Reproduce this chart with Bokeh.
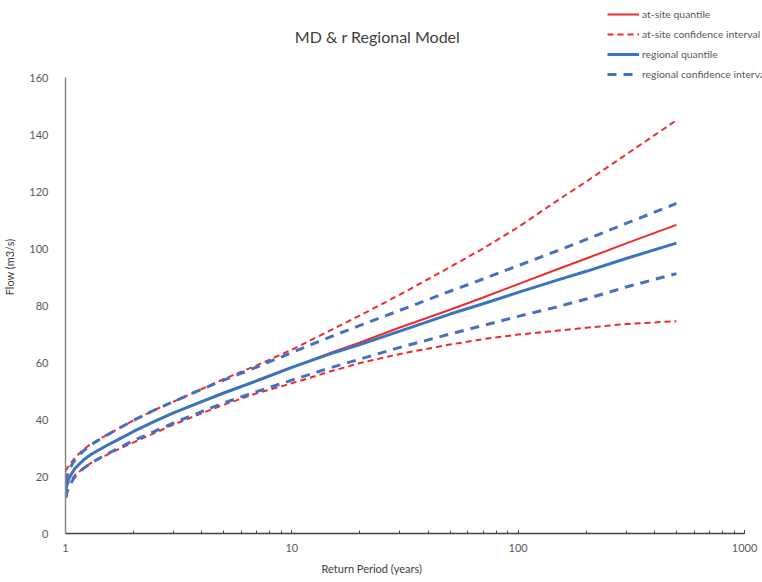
from bokeh.plotting import figure
from bokeh.models import (Legend, LegendItem, PrintfTickFormatter, SingleIntervalTicker,
                          LogTicker, Range1d, Label, Title)
from bokeh.embed import file_html
from bokeh.resources import INLINE

# Return periods (years) and flow quantiles (m3/s)
return_period = [1.005, 1.01, 1.03, 1.05, 1.1, 1.2, 1.3, 1.5, 1.75, 2, 2.5, 3, 4, 5, 7,
                 10, 15, 20, 30, 50, 70, 100, 150, 200, 300, 500]

atsite_quantile = [16.0, 17.0, 19.0, 20.3, 22.8, 25.8, 27.8, 30.6, 33.4, 35.8, 39.5, 42.3, 46.3, 49.3, 53.6,
                   58.3, 63.5, 67.0, 72.3, 78.5, 82.8, 87.5, 92.8, 96.5, 101.8, 108.3]
atsite_upper = [21.8, 22.5, 23.6, 24.5, 26.5, 29.5, 31.5, 34.3, 37.2, 39.7, 43.5, 46.3, 50.7, 54.2, 59.0,
                64.5, 71.5, 76.5, 83.8, 93.5, 100.0, 107.5, 117.0, 123.5, 133.0, 145.0]
atsite_lower = [16.5, 17.0, 17.8, 18.6, 20.4, 23.0, 24.8, 27.3, 29.9, 32.0, 35.4, 38.2, 42.2, 45.2, 49.2,
                52.7, 57.0, 59.8, 63.0, 66.3, 68.2, 69.8, 71.2, 72.2, 73.5, 74.5]

regional_quantile = [15.0, 16.5, 18.8, 20.2, 22.8, 25.8, 27.8, 30.6, 33.4, 35.8, 39.5, 42.3, 46.3, 49.3, 53.6,
                     58.3, 63.2, 66.3, 71.0, 77.0, 80.6, 84.6, 89.0, 92.0, 96.5, 101.9]
regional_upper = [18.0, 19.5, 21.8, 23.2, 25.8, 29.0, 31.2, 34.2, 37.2, 39.7, 43.5, 46.3, 50.6, 53.8, 58.4,
                  63.5, 69.2, 73.0, 78.3, 85.0, 89.3, 94.0, 99.3, 103.2, 108.8, 115.8]
regional_lower = [12.5, 13.8, 16.0, 17.4, 19.9, 22.8, 24.8, 27.6, 30.3, 32.6, 36.0, 38.8, 42.8, 45.8, 49.8,
                  53.8, 58.3, 61.2, 65.3, 70.0, 73.0, 76.2, 79.6, 82.3, 86.5, 91.2]

RED = "#ee2b2b"
BLUE = "#3a74bd"
BLUE_DASH = "#4570c2"
FONT = "Lato"

# The frame fills the top and right of the canvas so the title and legend can sit
# inside it; the axes are bounded to the 1-1000 / 0-160 extents.
p = figure(width=762, height=582, x_axis_type="log",
           x_range=Range1d(1, 1200.5), y_range=Range1d(0, 187.02),
           output_backend="svg", toolbar_location=None,
           min_border_left=64, min_border_right=0,
           min_border_top=0, min_border_bottom=49)

p.background_fill_color = "white"
p.border_fill_color = "white"
p.outline_line_color = None
p.grid.grid_line_color = None

# x axis (log)
xa = p.xaxis[0]
xa.bounds = (1, 1000)
xa.ticker = LogTicker(num_minor_ticks=10)
xa.formatter = PrintfTickFormatter(format="%d")
xa.axis_line_color = "#404040"
xa.axis_line_width = 1.5
xa.major_tick_line_color = "#404040"
xa.minor_tick_line_color = "#404040"
xa.major_tick_in = 3
xa.major_tick_out = 0
xa.minor_tick_in = 3
xa.minor_tick_out = 0
xa.major_label_standoff = 10

# x axis title, placed under the tick labels
x_title = Title(text="Return Period (years)", align="left", offset=256, standoff=10,
                text_font=FONT, text_font_size="11px", text_font_style="normal",
                text_color="#404040")
p.add_layout(x_title, "below")

# y axis
ya = p.yaxis[0]
ya.bounds = (0, 160)
ya.ticker = SingleIntervalTicker(interval=20, num_minor_ticks=0)
ya.axis_label = "Flow (m3/s)"
ya.axis_line_color = "#8a8a8a"
ya.axis_line_width = 1.5
ya.major_tick_line_color = None
ya.minor_tick_line_color = None
ya.major_label_standoff = 11
ya.axis_label_standoff = 10
ya.axis_label_text_font = FONT
ya.axis_label_text_font_size = "11px"
ya.axis_label_text_font_style = "normal"
ya.axis_label_text_color = "#404040"

for ax in (xa, ya):
    ax.major_label_text_font = FONT
    ax.major_label_text_font_size = "11px"
    ax.major_label_text_color = "#595959"

# series
r_q = p.line(return_period, atsite_quantile, line_color=RED, line_width=2)
r_u = p.line(return_period, atsite_upper, line_color=RED, line_width=2, line_dash="6 4")
p.line(return_period, atsite_lower, line_color=RED, line_width=2, line_dash="6 4")
b_q = p.line(return_period, regional_quantile, line_color=BLUE, line_width=3)
b_u = p.line(return_period, regional_upper, line_color=BLUE_DASH, line_width=3, line_dash="9 7")
p.line(return_period, regional_lower, line_color=BLUE_DASH, line_width=3, line_dash="9 7")

# chart title (screen offsets from the frame's lower-left corner)
title = Label(x=312, y=497, x_units="screen", y_units="screen",
              text="MD & r Regional Model", text_align="center", text_baseline="middle",
              text_font=FONT, text_font_size="16px", text_color="#404040")
p.add_layout(title)

legend = Legend(items=[
    LegendItem(label="at-site quantile", renderers=[r_q]),
    LegendItem(label="at-site confidence interval", renderers=[r_u]),
    LegendItem(label="regional quantile", renderers=[b_q]),
    LegendItem(label="regional confidence interval", renderers=[b_u]),
], location=(542, 449))
legend.padding = 0
legend.margin = 0
legend.spacing = 0
legend.glyph_width = 32
legend.glyph_height = 20
legend.label_height = 20
legend.label_standoff = 3
legend.label_text_font = FONT
legend.label_text_font_size = "10.4px"
legend.label_text_color = "#595959"
legend.border_line_alpha = 0
legend.background_fill_alpha = 0
p.add_layout(legend, "center")

open("out.html", "w").write(file_html(p, INLINE))
